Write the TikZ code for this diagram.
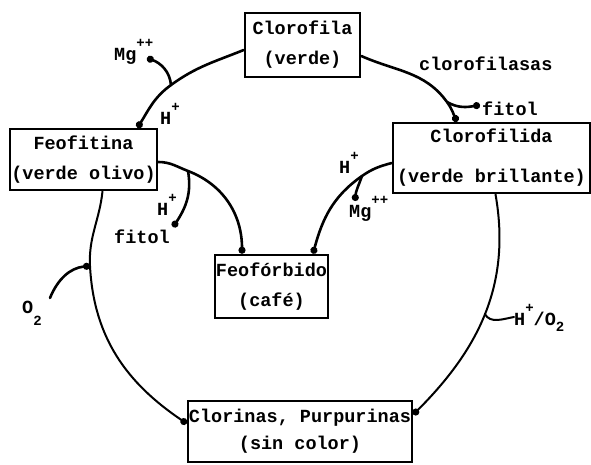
\documentclass[tikz,border=0pt]{standalone}
\usepackage{fontspec}
\setmainfont{Liberation Mono}
\usetikzlibrary{arrows.meta}
% raised / lowered small indices for ions and molecules
\newcommand\upp[1]{\raisebox{0.7em}{\fontsize{14}{14}\selectfont #1}}
\newcommand\dwn[2][0.35em]{\raisebox{-#1}{\fontsize{14}{14}\selectfont #2}}
\tikzset{
  stagebox/.style={draw, line width=2.6pt, inner sep=0pt, align=center,
    font=\fontsize{18.5}{30}\selectfont\bfseries},
  link/.style={line width=2.6pt, line cap=round},
  thinlink/.style={link, line width=2pt},
  reacts/.style={-{Circle[length=7pt]}},
  taglbl/.style={inner sep=0pt, anchor=base west,
    font=\fontsize{18.5}{22}\selectfont\bfseries},
}
\begin{document}
\begin{tikzpicture}[x=1pt,y=-1pt]
\useasboundingbox (0,0) rectangle (591,464);

% pigments
\node[stagebox, minimum width=115pt, minimum height=64pt] (clorofila) at (302.5,45) {Clorofila\\(verde)};
\node[stagebox, minimum width=147pt, minimum height=61pt] (feofitina) at (83.5,159.5) {Feofitina\\(verde olivo)};
\node[stagebox, minimum width=197pt, minimum height=70pt] (clorofilida) at (491.5,158) {Clorofilida\\[10pt](verde brillante)};
\node[stagebox, minimum width=113pt, minimum height=63pt] (feoforbido) at (271.5,286.5) {Feofórbido\\(café)};
\node[stagebox, minimum width=224pt, minimum height=61pt] (clorinas) at (300,431.5) {Clorinas, Purpurinas\\[-3pt](sin color)};

% branch points and free ends
\coordinate (j1) at (171,85);
\coordinate (mgA) at (147,58);
\coordinate (j2) at (447,102);
\coordinate (fitA) at (480,105);
\coordinate (j3) at (188,171);
\coordinate (fitB) at (173,227);
\coordinate (j4) at (362,176);
\coordinate (mgB) at (355,201);
\coordinate (j5) at (90,266);
\coordinate (oxA) at (50,298);
\coordinate (oxB) at (514,317);

% Clorofila -> Feofitina (loss of Mg++)
\draw[link, reacts] ([yshift=-5pt]clorofila.west) to[out=202,in=36] (j1)
  to[out=216,in=58] ([xshift=54pt]feofitina.north);
\draw[link, reacts] (j1) to[out=95,in=-20] (mgA);
\node[taglbl] (mgtop) at (114,60) {Mg\upp{++}};
\node[taglbl] (hA) at (160,124) {H\upp{+}};

% Clorofila -> Clorofilida (clorofilasas, loss of fitol)
\draw[link, reacts] ([yshift=-11pt]clorofila.east) to[out=-24,in=126] (j2)
  to[out=-54,in=115] ([xshift=-34.5pt]clorofilida.north);
\draw[link, reacts] (j2) to[out=-30,in=190] (fitA);
\node[taglbl] (enz) at (419,70) {clorofilasas};
\node[taglbl] (fittop) at (482,115) {fitol};

% Feofitina -> Feoforbido
\draw[link, reacts] ([yshift=-2.5pt]feofitina.east) to[out=0,in=159] (j3)
  to[out=-21,in=90] ([xshift=-29.5pt]feoforbido.north);
\draw[link, reacts] (j3) to[out=-80,in=56] (fitB);
\node[taglbl] (hB) at (157,215) {H\upp{+}};
\node[taglbl] (fitmid) at (114,243) {fitol};

% Clorofilida -> Feoforbido
\draw[link, reacts] ([yshift=-5pt]clorofilida.west) to[out=195,in=35] (j4)
  to[out=215,in=75] ([xshift=41.5pt]feoforbido.north);
\draw[link, reacts] (j4) to[out=250,in=85] (mgB);
\node[taglbl] (hC) at (339,173) {H\upp{+}};
\node[taglbl] (mgmid) at (349,217) {Mg\upp{++}};

% Feofitina -> Clorinas (oxidation)
\draw[thinlink, reacts] ([xshift=19pt]feofitina.south) to[out=264,in=93] (j5)
  to[out=-87,in=146] ([yshift=8pt]clorinas.west);
\draw[link, reacts] (oxA) to[out=68,in=185] (j5);
\node[taglbl] (oxlblA) at (22,313) {O\dwn[0.7em]{2}};

% Clorofilida -> Clorinas
\draw[thinlink, reacts] ([xshift=4pt]clorofilida.south) to[out=-80,in=45]
  coordinate[pos=0.5] (j6) ([yshift=17pt]clorinas.east);
\draw[thinlink] (j6) to[out=-60,in=190] (oxB);
\node[taglbl] (oxlblB) at (514,325) {H\upp{+}/O\dwn{2}};
\end{tikzpicture}
\end{document}
